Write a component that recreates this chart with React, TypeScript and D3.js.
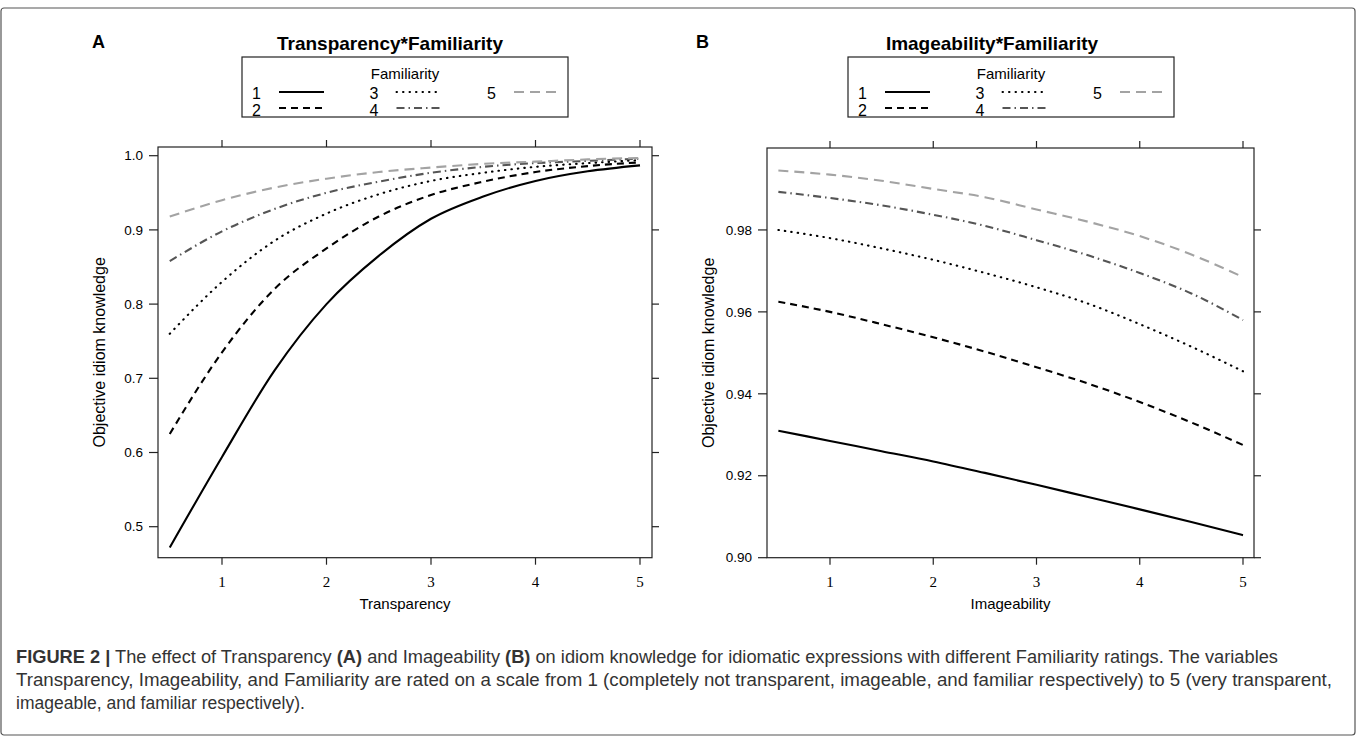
import React from "react";
import * as d3 from "d3";

const xValues = [0.5, 1, 1.5, 2, 2.5, 3, 3.5, 4, 4.5, 5];

const transFam1 = [0.472, 0.594, 0.71, 0.8, 0.865, 0.915, 0.945, 0.966, 0.979, 0.987];
const transFam2 = [0.625, 0.735, 0.82, 0.875, 0.918, 0.947, 0.965, 0.978, 0.986, 0.991];
const transFam3 = [0.76, 0.83, 0.885, 0.922, 0.948, 0.966, 0.977, 0.985, 0.99, 0.994];
const transFam4 = [0.858, 0.898, 0.928, 0.95, 0.965, 0.977, 0.985, 0.99, 0.993, 0.996];
const transFam5 = [0.918, 0.94, 0.957, 0.969, 0.978, 0.984, 0.989, 0.992, 0.995, 0.997];

const imageFam1 = [0.931, 0.9285, 0.926, 0.9235, 0.9207, 0.9178, 0.9148, 0.9118, 0.9087, 0.9055];
const imageFam2 = [0.9625, 0.96, 0.957, 0.9538, 0.9503, 0.9465, 0.9425, 0.938, 0.933, 0.9275];
const imageFam3 = [0.98, 0.978, 0.9755, 0.9727, 0.9695, 0.966, 0.962, 0.957, 0.9515, 0.9455];
const imageFam4 = [0.9893, 0.9878, 0.986, 0.9837, 0.981, 0.9775, 0.9738, 0.9695, 0.9645, 0.958];
const imageFam5 = [0.9945, 0.9935, 0.992, 0.99, 0.988, 0.985, 0.982, 0.9785, 0.974, 0.9685];

const familiarityLevels = ["1", "2", "3", "4", "5"];
const xTicks = [1, 2, 3, 4, 5];
const transYTicks = [0.5, 0.6, 0.7, 0.8, 0.9, 1.0];
const imageYTicks = [0.9, 0.92, 0.94, 0.96, 0.98];

const seriesStyles = [
  { stroke: "#000", dash: "none", cap: "butt" },
  { stroke: "#000", dash: "7,5", cap: "butt" },
  { stroke: "#000", dash: "0.5,6", cap: "round" },
  { stroke: "#555", dash: "8,4,1.5,4", cap: "butt" },
  { stroke: "#a3a3a3", dash: "10,6", cap: "butt" },
];

const SANS = "'Liberation Sans', Arial, Helvetica, sans-serif";
const SERIF = "'Liberation Serif', 'Times New Roman', serif";

type PanelProps = {
  letter: string;
  letterX: number;
  title: string;
  titleX: number;
  legL: number;
  xLabel: string;
  series: number[][];
  left: number;
  right: number;
  top: number;
  bottom: number;
  xRange: [number, number];
  yDomain: [number, number];
  yRange: [number, number];
  yTicks: number[];
  yFmt: (v: number) => string;
};

function Panel(p: PanelProps) {
  const x = d3.scaleLinear().domain([1, 5]).range(p.xRange);
  const y = d3.scaleLinear().domain(p.yDomain).range(p.yRange);
  const line = d3
    .line<number>()
    .x((_, i) => x(xValues[i]))
    .y((v) => y(v))
    .curve(d3.curveMonotoneX);
  const cx = (p.left + p.right) / 2;
  const legL = p.legL;
  const legW = 326;
  const legendItems = [
    { col: 0, row: 0 },
    { col: 0, row: 1 },
    { col: 1, row: 0 },
    { col: 1, row: 1 },
    { col: 2, row: 0 },
  ];
  return (
    <g>
      <text x={p.letterX} y={48} fontFamily={SANS} fontWeight="bold" fontSize={18}>
        {p.letter}
      </text>
      <text x={p.titleX} y={50} textAnchor="middle" fontFamily={SANS} fontWeight="bold" fontSize={19}>
        {p.title}
      </text>
      {/* legend */}
      <rect x={legL} y={57} width={legW} height={60} fill="#fff" stroke="#222" strokeWidth={1.2} />
      <text x={legL + legW / 2} y={79} textAnchor="middle" fontFamily={SANS} fontSize={15}>
        Familiarity
      </text>
      {familiarityLevels.map((lab, i) => {
        const it = legendItems[i];
        const tx = legL + 10 + it.col * 117.5;
        const ty = it.row === 0 ? 99 : 116;
        const ly = it.row === 0 ? 92 : 108;
        const st = seriesStyles[i];
        return (
          <g key={lab}>
            <text x={tx} y={ty} fontFamily={SANS} fontSize={16}>
              {lab}
            </text>
            <line
              x1={tx + 27}
              x2={tx + 72}
              y1={ly}
              y2={ly}
              stroke={st.stroke}
              strokeWidth={2}
              strokeDasharray={st.dash}
              strokeLinecap={st.cap as any}
            />
          </g>
        );
      })}
      {/* frame */}
      <rect
        x={p.left}
        y={p.top}
        width={p.right - p.left}
        height={p.bottom - p.top}
        fill="none"
        stroke="#222"
        strokeWidth={1.2}
      />
      {/* x ticks bottom & top */}
      {xTicks.map((t) => (
        <g key={"x" + t}>
          <line x1={x(t)} x2={x(t)} y1={p.bottom} y2={p.bottom + 7} stroke="#222" strokeWidth={1.2} />
          <line x1={x(t)} x2={x(t)} y1={p.top} y2={p.top - 7} stroke="#222" strokeWidth={1.2} />
          <text x={x(t)} y={587} textAnchor="middle" fontFamily={SERIF} fontSize={15}>
            {t}
          </text>
        </g>
      ))}
      {/* y ticks left & right */}
      {p.yTicks.map((t) => (
        <g key={"y" + t}>
          <line x1={p.left} x2={p.left - 9} y1={y(t)} y2={y(t)} stroke="#222" strokeWidth={1.2} />
          <line x1={p.right} x2={p.right + 7} y1={y(t)} y2={y(t)} stroke="#222" strokeWidth={1.2} />
          <text
            x={p.left - 15}
            y={y(t)}
            dy="0.35em"
            textAnchor="end"
            fontFamily={SANS}
            fontSize={13.5}
          >
            {p.yFmt(t)}
          </text>
        </g>
      ))}
      <text x={cx} y={609} textAnchor="middle" fontFamily={SANS} fontSize={15}>
        {p.xLabel}
      </text>
      <text
        transform={`translate(${p.left - 53},${(p.top + p.bottom) / 2}) rotate(-90)`}
        textAnchor="middle"
        fontFamily={SANS}
        fontSize={16}
      >
        Objective idiom knowledge
      </text>
      {p.series.map((s, i) => {
        const st = seriesStyles[i];
        return (
          <path
            key={i}
            d={line(s) || ""}
            fill="none"
            stroke={st.stroke}
            strokeWidth={2.1}
            strokeDasharray={st.dash}
            strokeLinecap={st.cap as any}
          />
        );
      })}
    </g>
  );
}

export default function App() {
  return (
    <svg
      width={1357}
      height={738}
      style={{ position: "fixed", left: 0, top: 0, background: "#fff", display: "block" }}
    >
      <rect x={0} y={0} width={1357} height={738} fill="#fff" />
      <rect x={1} y={8} width={1354} height={727} rx={3} fill="none" stroke="#555" strokeWidth={1.2} />
      <Panel
        letter="A"
        letterX={92}
        title="Transparency*Familiarity"
        titleX={390}
        legL={242}
        xLabel="Transparency"
        series={[transFam1, transFam2, transFam3, transFam4, transFam5]}
        left={158}
        right={652}
        top={147}
        bottom={557.7}
        xRange={[222, 640]}
        yDomain={[0.5, 1.0]}
        yRange={[526.7, 155.7]}
        yTicks={transYTicks}
        yFmt={d3.format(".1f")}
      />
      <Panel
        letter="B"
        letterX={696}
        title="Imageability*Familiarity"
        titleX={992}
        legL={848}
        xLabel="Imageability"
        series={[imageFam1, imageFam2, imageFam3, imageFam4, imageFam5]}
        left={767}
        right={1254}
        top={148}
        bottom={557.7}
        xRange={[830, 1243]}
        yDomain={[0.9, 1.0]}
        yRange={[557.7, 148]}
        yTicks={imageYTicks}
        yFmt={d3.format(".2f")}
      />
      <g fontFamily={SANS} fontSize={17.5} fill="#333">
        <text x={16} y={663} textLength={1262} lengthAdjust="spacingAndGlyphs">
          <tspan fontWeight="bold">FIGURE 2 |</tspan>
          <tspan> The effect of Transparency </tspan>
          <tspan fontWeight="bold">(A)</tspan>
          <tspan> and Imageability </tspan>
          <tspan fontWeight="bold">(B)</tspan>
          <tspan> on idiom knowledge for idiomatic expressions with different Familiarity ratings. The variables</tspan>
        </text>
        <text x={16} y={686} textLength={1316} lengthAdjust="spacingAndGlyphs">
          Transparency, Imageability, and Familiarity are rated on a scale from 1 (completely not transparent, imageable, and familiar respectively) to 5 (very transparent,
        </text>
        <text x={16} y={709}>
          imageable, and familiar respectively).
        </text>
      </g>
    </svg>
  );
}
